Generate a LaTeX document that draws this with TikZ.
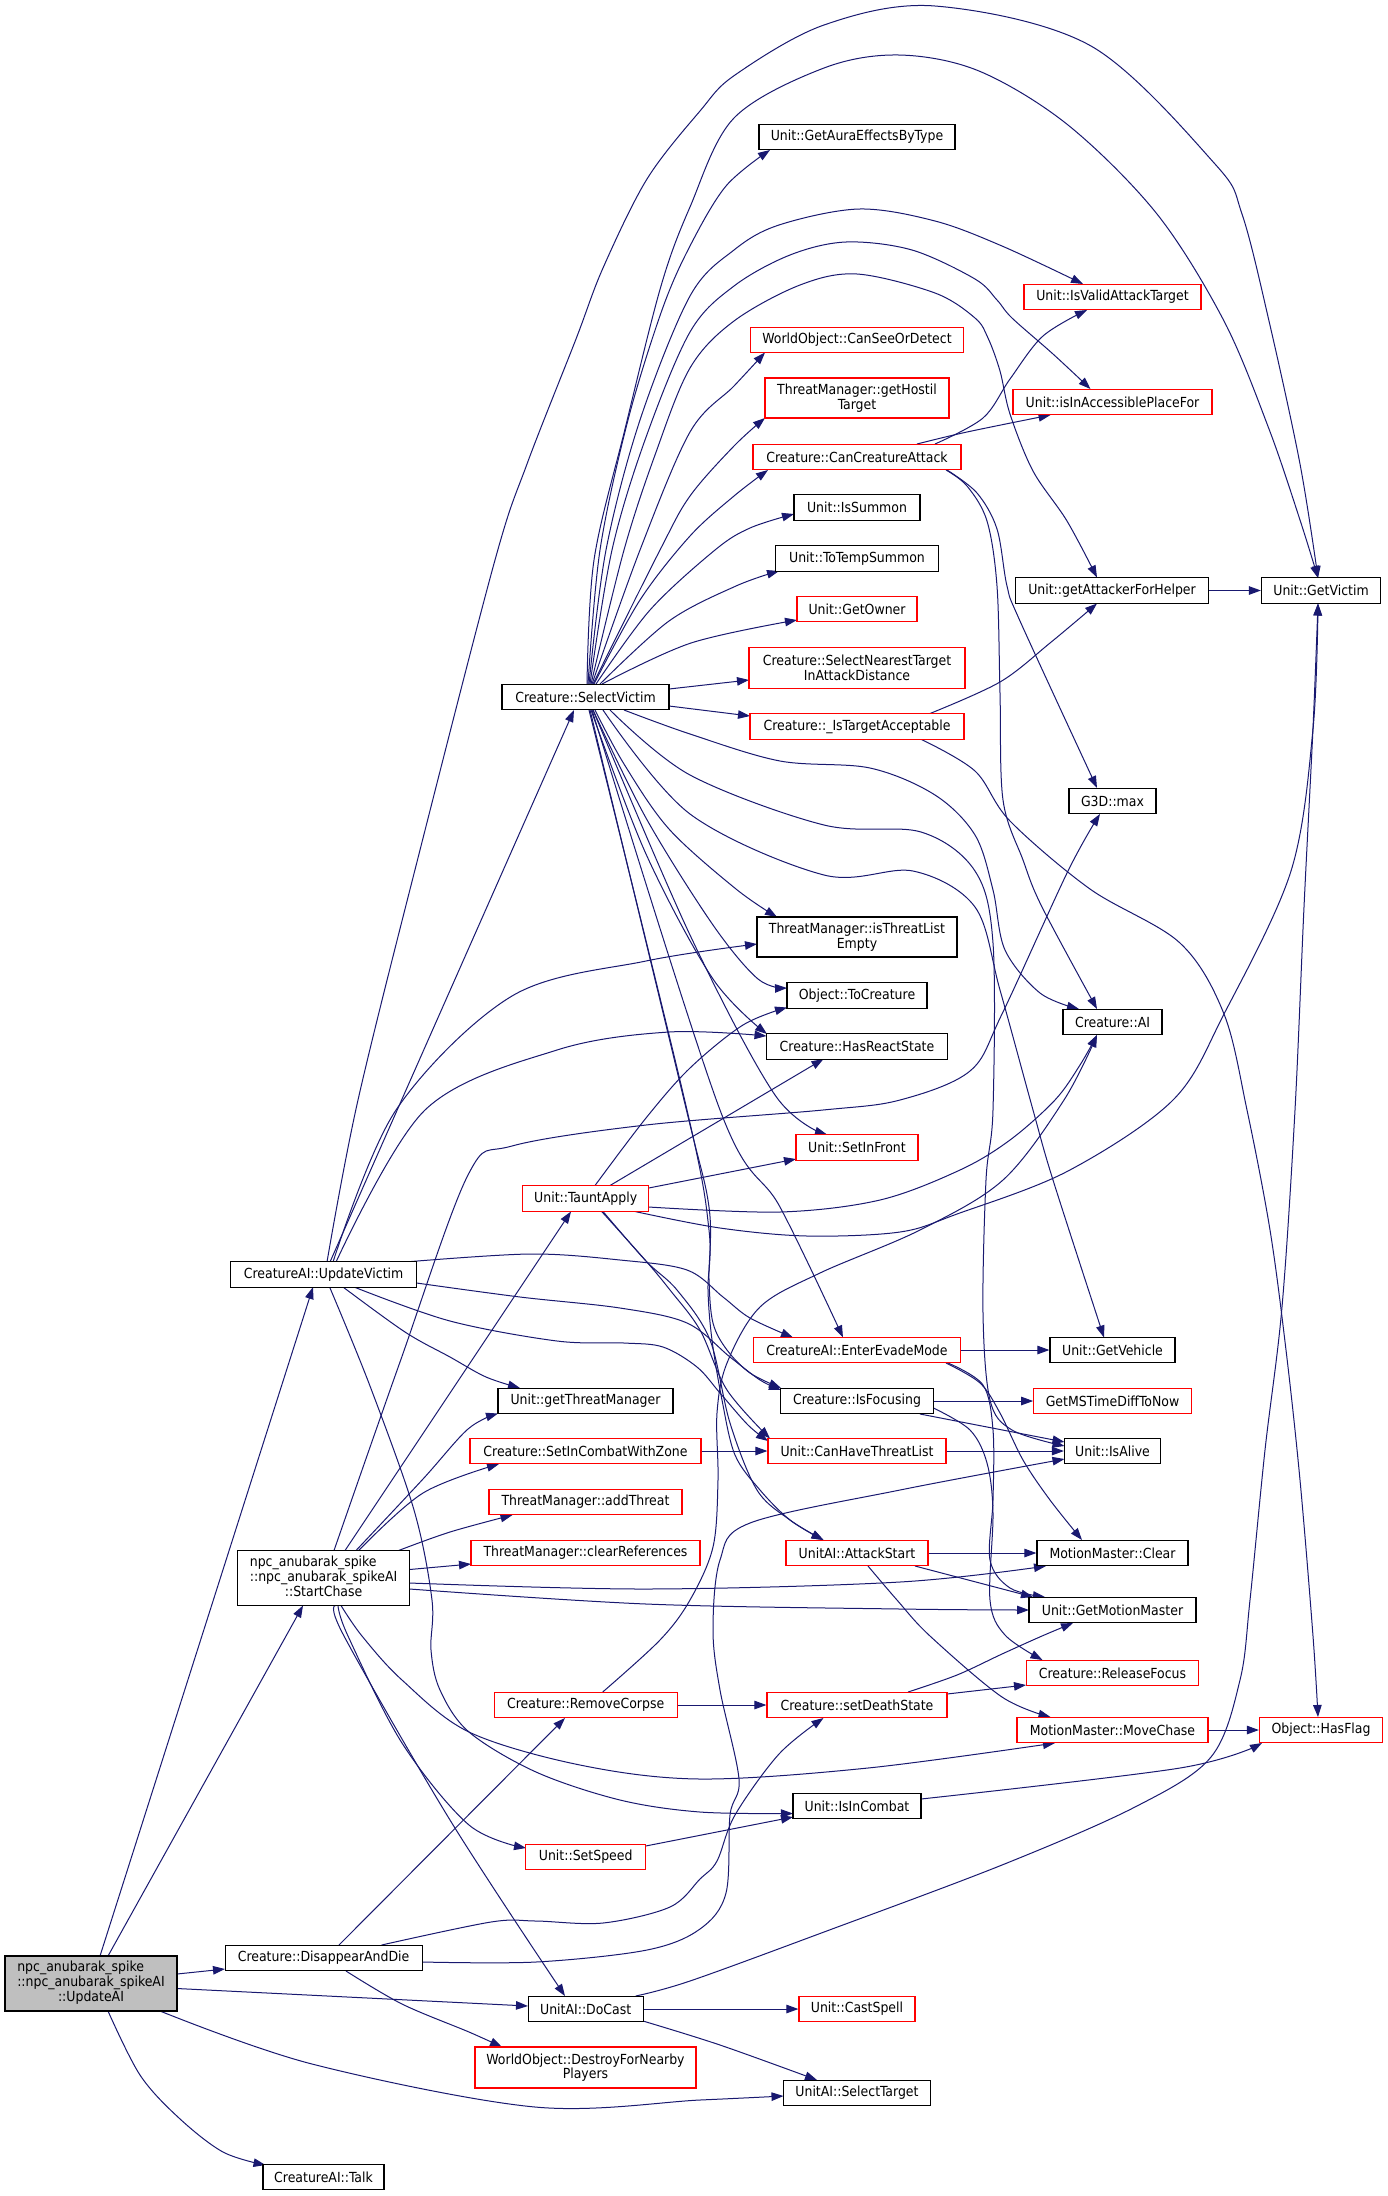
\documentclass[tikz,border=0pt]{standalone}
\usepackage{fontspec}
\IfFontExistsTF{DejaVu Sans Condensed}{\setmainfont{DejaVu Sans Condensed}}{\setmainfont{DejaVu Sans}[FakeStretch=0.9]}
\usetikzlibrary{arrows.meta,calc}
\definecolor{edgec}{RGB}{25,25,112}
\definecolor{nodered}{RGB}{255,0,0}
\definecolor{mygray}{RGB}{191,191,191}
\pgfdeclarelayer{bg}
\pgfsetlayers{bg,main}
\tikzset{
  base/.style={rectangle, fill=white, line width=1.2pt, inner xsep=0pt, inner ysep=0pt,
    minimum height=25.5pt, font=\fontsize{13.9}{14.5}\selectfont, align=center},
  nb/.style={base, draw=black},
  nr/.style={base, draw=nodered},
  e/.style={draw=edgec, line width=1pt, -{Triangle[length=12pt,width=8.5pt]}},
}
\newcommand\edg[1]{\draw[e] plot[smooth,tension=0.55] coordinates {#1};}
\newcommand\threel[3]{\begin{tabular}{@{}l@{}}#1\\#2\\\multicolumn{1}{@{}c@{}}{#3}\end{tabular}}
\begin{document}
\begin{tikzpicture}[x=1pt,y=-1pt]
\useasboundingbox (0,0) rectangle (1388,2196);
% nodes
\node[nb, minimum width=196pt] (gaebt) at (857,137) {Unit::GetAuraEffectsByType};
\node[nr, minimum width=177pt] (ivat) at (1112.5,297) {Unit::IsValidAttackTarget};
\node[nr, minimum width=213pt] (csod) at (857,340) {WorldObject::CanSeeOrDetect};
\node[nr, minimum width=184pt, minimum height=40pt] (ght) at (857,398) {ThreatManager::getHostil\\Target};
\node[nr, minimum width=199pt] (iapf) at (1112.5,402) {Unit::isInAccessiblePlaceFor};
\node[nr, minimum width=208pt] (cca) at (857,457) {Creature::CanCreatureAttack};
\node[nb, minimum width=126pt] (iss) at (857,507.5) {Unit::IsSummon};
\node[nb, minimum width=163pt] (tts) at (857,558.5) {Unit::ToTempSummon};
\node[nb, minimum width=193.5pt] (gafh) at (1112,590.5) {Unit::getAttackerForHelper};
\node[nb, minimum width=119pt] (gv) at (1321,590.5) {Unit::GetVictim};
\node[nr, minimum width=120pt] (go) at (857,609) {Unit::GetOwner};
\node[nr, minimum width=216pt, minimum height=40.5pt] (snt) at (857,668) {Creature::SelectNearestTarget\\InAttackDistance};
\node[nb, minimum width=167pt] (sv) at (585.5,697) {Creature::SelectVictim};
\node[nr, minimum width=214pt] (ita) at (857,726.5) {Creature::\_IsTargetAcceptable};
\node[nb, minimum width=87pt] (max) at (1112.5,801) {G3D::max};
\node[nb, minimum width=200pt, minimum height=40pt] (itle) at (857,937) {ThreatManager::isThreatList\\Empty};
\node[nb, minimum width=140pt] (tc) at (857,995.5) {Object::ToCreature};
\node[nb, minimum width=99pt] (ai) at (1112.5,1022) {Creature::AI};
\node[nb, minimum width=181pt] (hrs) at (857,1046.5) {Creature::HasReactState};
\node[nr, minimum width=122pt] (sif) at (857,1147.5) {Unit::SetInFront};
\node[nr, minimum width=126pt] (ta) at (585.7,1198.5) {Unit::TauntApply};
\node[nb, minimum width=186pt] (uv) at (323.6,1274.5) {CreatureAI::UpdateVictim};
\node[nr, minimum width=207pt] (eem) at (857,1350) {CreatureAI::EnterEvadeMode};
\node[nb, minimum width=125pt] (gveh) at (1112.5,1350) {Unit::GetVehicle};
\node[nb, minimum width=175pt] (gtm) at (585.5,1401) {Unit::getThreatManager};
\node[nb, minimum width=152.5pt] (foc) at (857,1401) {Creature::IsFocusing};
\node[nr, minimum width=157.5pt] (gms) at (1112.5,1401) {GetMSTimeDiffToNow};
\node[nr, minimum width=231pt] (sicwz) at (585.5,1451) {Creature::SetInCombatWithZone};
\node[nr, minimum width=178pt] (chtl) at (857,1451) {Unit::CanHaveThreatList};
\node[nb, minimum width=96pt] (ia) at (1112.5,1451) {Unit::IsAlive};
\node[nr, minimum width=193pt] (at) at (585.5,1502) {ThreatManager::addThreat};
\node[nb, minimum width=172pt, minimum height=55pt] (sc) at (323.6,1578) {\threel{npc\_anubarak\_spike}{::npc\_anubarak\_spikeAI}{::StartChase}};
\node[nr, minimum width=229pt] (cr) at (585.5,1553) {ThreatManager::clearReferences};
\node[nr, minimum width=142pt] (as) at (857,1553) {UnitAI::AttackStart};
\node[nb, minimum width=151pt] (mmc) at (1112.5,1553) {MotionMaster::Clear};
\node[nb, minimum width=167pt] (gmm) at (1112.5,1610) {Unit::GetMotionMaster};
\node[nr, minimum width=172.5pt] (rf) at (1112.5,1673) {Creature::ReleaseFocus};
\node[nr, minimum width=183pt] (rc) at (585.7,1705) {Creature::RemoveCorpse};
\node[nr, minimum width=180pt] (sds) at (857,1705) {Creature::setDeathState};
\node[nr, minimum width=191pt] (mc) at (1112.5,1730) {MotionMaster::MoveChase};
\node[nr, minimum width=123pt] (hf) at (1321,1730) {Object::HasFlag};
\node[nb, minimum width=128pt] (iic) at (857,1806) {Unit::IsInCombat};
\node[nr, minimum width=120pt] (ss) at (585.7,1857) {Unit::SetSpeed};
\node[nb, fill=mygray, minimum width=172pt, minimum height=55pt] (ua) at (91,1983.5) {\threel{npc\_anubarak\_spike}{::npc\_anubarak\_spikeAI}{::UpdateAI}};
\node[nb, minimum width=197pt] (dad) at (323.6,1958) {Creature::DisappearAndDie};
\node[nb, minimum width=115pt] (dc) at (585.7,2009) {UnitAI::DoCast};
\node[nr, minimum width=116pt] (cs) at (857,2009) {Unit::CastSpell};
\node[nr, minimum width=221pt, minimum height=41pt] (dfnp) at (585.5,2067.5) {WorldObject::DestroyForNearby\\Players};
\node[nb, minimum width=147pt] (st) at (857,2093) {UnitAI::SelectTarget};
\node[nb, minimum width=121pt] (talk) at (323.5,2177) {CreatureAI::Talk};

\begin{pgfonlayer}{bg}
\fill[white] (0,0) rectangle (1388,2196);
% UpdateAI
\draw[e] ($(ua)+(9,-27.5)$) -- ($(uv)+(-10.6,12.5)$);
\draw[e] ($(ua)+(17,-27.5)$) -- ($(sc)+(-20.6,27.5)$);
\draw[e] ($(ua)+(86,-9.5)$) -- ($(dad)+(-98.6,11)$);
\draw[e] ($(ua)+(86,5)$) -- ($(dc)+(-57.7,-3)$);
\edg{($(ua)+(69,27.5)$) (312,2064) (535,2107) (700,2100) ($(st)+(-73.5,3)$)}
\edg{($(ua)+(17,27.5)$) (140,2075) (179,2118) (223,2152) ($(talk)+(-58,-12)$)}
% UpdateVictim
\draw[e] ($(uv)+(6.4,-12.5)$) -- ($(sv)+(-11.5,13)$);
\edg{($(uv)+(3.4,-12.5)$) (358,1100) (420,850) (495,560) (527,464) (576,339) (603,268) (647,179) (700,111) (735,75) (824,25) (935,6) (1091,46) (1215,164) (1242,214) (1269,321) (1300,464) ($(gv)+(-3,-12.5)$)}
\edg{($(uv)+(9.4,-12.5)$) (396,1110) (512,996) (646,961) ($(itle)+(-100,7)$)}
\edg{($(uv)+(12.4,-12.5)$) (425,1110) (557,1050) (669,1032) ($(hrs)+(-90.5,-10.5)$)}
\edg{($(uv)+(81.4,-12.5)$) (530,1254) (620,1260) (687,1270) (723,1297) (750,1318) ($(eem)+(-64,-12.5)$)}
\edg{($(uv)+(93,8.5)$) (520,1297) (620,1308) (687,1323) (730,1357) (760,1380) ($(foc)+(-76,-11)$)}
\edg{($(uv)+(30.4,12.5)$) (450,1321) (557,1341) (624,1343) (663,1347) (697,1367) (720,1393) (748,1425) ($(chtl)+(-89,-10)$)}
\edg{($(uv)+(19.4,12.5)$) (405,1332) (450,1357) (486,1377) ($(gtm)+(-65.5,-13)$)}
\edg{($(uv)+(6,12.5)$) (370,1386) (414,1510) (432,1600) (431,1650) (440,1690) (469,1732) (536,1772) (620,1800) (700,1812) ($(iic)+(-64,7.5)$)}
% SelectVictim upper fan
\edg{($(sv)+(1.5,-13)$) (594,560) (625,429) (661,286) (690,207) (734,118) (824,68) (899,55) (979,71) (1068,125) (1157,214) (1224,321) (1269,429) (1300,520) ($(gv)+(-3,-12.5)$)}
\edg{($(sv)+(2.5,-13)$) (600,550) (628,420) (662,310) (690,246) (726,186) ($(gaebt)+(-87,13)$)}
\edg{($(sv)+(3.5,-13)$) (606,550) (640,420) (690,296) (734,250) (779,225) (859,209) (935,221) (1002,246) ($(ivat)+(-29.5,-13)$)}
\edg{($(sv)+(4.5,-13)$) (612,550) (645,440) (690,332) (734,286) (790,255) (846,242) (912,250) (975,279) (997,300) (1012,318) (1053,354) ($(iapf)+(-22,-13)$)}
\edg{($(sv)+(5.5,-13)$) (624,550) (655,455) (690,368) (734,321) (800,285) (857,274) (935,293) (975,318) (988,338) (1000,371) (1010,414) (1033,471) (1067,521) ($(gafh)+(-15,-13)$)}
\edg{($(sv)+(6.5,-13)$) (640,550) (690,432) (734,386) ($(csod)+(-92,12.5)$)}
\edg{($(sv)+(7.5,-13)$) (660,550) (690,496) (734,446) ($(ght)+(-92,20)$)}
\edg{($(sv)+(8.5,-13)$) (640,600) (690,536) (734,496) ($(cca)+(-89,13)$)}
\edg{($(sv)+(10.5,-13)$) (650,610) (715,550) (750,528) ($(iss)+(-63,6.5)$)}
\edg{($(sv)+(14.5,-13)$) (669,621) (736,586) ($(tts)+(-78,12.5)$)}
\edg{($(sv)+(16.5,-13)$) (691,643) ($(go)+(-60,11)$)}
\draw[e] ($(sv)+(83.5,-8)$) -- ($(snt)+(-108,12)$);
\draw[e] ($(sv)+(83.5,9)$) -- ($(ita)+(-107,-10.5)$);
% SelectVictim lower fan
\edg{($(sv)+(9.5,13)$) (624,764) (669,829) (736,889) ($(itle)+(-80,-20)$)}
\edg{($(sv)+(7.5,13)$) (646,818) (713,925) (758,979) ($(tc)+(-70,-7.5)$)}
\edg{($(sv)+(5.5,13)$) (646,854) (713,979) ($(hrs)+(-90,-12.5)$)}
\edg{($(sv)+(7.5,13)$) (690,935) (775,1095) ($(sif)+(-30,-13)$)}
\edg{($(sv)+(6.5,13)$) (720,1110) (780,1207) ($(eem)+(-14,-12.5)$)}
\edg{($(sv)+(4.5,13)$) (684,1100) (709,1207) (709,1279) (713,1323) (727,1350) (750,1373) ($(foc)+(-76,-13)$)}
\edg{($(sv)+(3.5,13)$) (687,1110) (709,1230) (708,1290) (712,1340) (722,1400) (735,1455) (760,1490) (790,1520) ($(as)+(-33.5,-13)$)}
\edg{($(sv)+(38.5,13)$) (690,734) (780,761) (870,768) (935,795) (975,835) (993,890) (1005,950) (1040,993) ($(ai)+(-33.5,-13)$)}
\edg{($(sv)+(24.5,13)$) (690,775) (824,825) (921,832) (975,871) (993,943) (993,1110) (986,1180) (983,1313) (990,1400) (1012,1430) ($(ia)+(-48,-5)$)}
\edg{($(sv)+(17.5,13)$) (690,814) (824,875) (913,871) (975,907) (1000,990) (1033,1110) (1053,1180) ($(gveh)+(-8.5,-12.5)$)}
% CanCreatureAttack
\edg{($(cca)+(78,-13)$) (983,418) (1010,379) (1043,336) ($(ivat)+(-25.5,13)$)}
\edg{($(cca)+(60,-13)$) (967,432) ($(iapf)+(-62,13)$)}
\edg{($(cca)+(90,13)$) (977,493) (997,529) (1007,586) (1020,621) ($(max)+(-15.5,-13)$)}
\edg{($(cca)+(89,13)$) (967,486) (987,521) (997,586) (1000,693) (1003,800) (1023,860) (1042,907) ($(ai)+(-15.5,-13)$)}
% IsTargetAcceptable
\edg{($(ita)+(73,-13)$) (1000,682) (1050,643) ($(gafh)+(-15,13)$)}
\edg{($(ita)+(64.5,13)$) (975,771) (1010,821) (1090,889) (1180,943) (1224,1014) (1247,1110) (1270,1230) (1286,1350) (1300,1480) (1313,1636) ($(hf)+(-3,-13)$)}
\draw[e] (gafh.east) -- (gv.west);
% TauntApply
\edg{($(ta)+(9.3,-13)$) (646,1118) (690,1068) (743,1025) ($(tc)+(-70,12)$)}
\draw[e] ($(ta)+(24.3,-13)$) -- ($(hrs)+(-33.5,12.5)$);
\draw[e] ($(ta)+(63,-10.5)$) -- ($(sif)+(-61,11.5)$);
\edg{($(ta)+(16,13)$) (646,1261) (670,1290) (700,1330) (727,1390) ($(chtl)+(-87,-12.5)$)}
\edg{($(ta)+(17.3,13)$) (646,1261) (677,1290) (710,1340) (730,1423) (757,1490) (790,1520) ($(as)+(-33.5,-13)$)}
\edg{($(ta)+(63,8.5)$) (780,1212) (880,1200) (960,1170) (1010,1140) (1055,1100) (1080,1065) ($(ai)+(-15.5,13)$)}
\edg{($(ta)+(49.3,13)$) (720,1228) (807,1236) (900,1232) (957,1214) (1068,1171) (1173,1100) (1224,1014) (1291,871) (1313,729) ($(gv)+(-3,13)$)}
% StartChase
\draw[e] ($(sc)+(21.4,-27.5)$) -- ($(ta)+(-14.7,13)$);
\edg{($(sc)+(10.4,-27.5)$) (400,1362) (468,1175) (512,1146) (646,1125) (823,1110) (900,1100) (970,1071) (1002,1014) (1068,871) ($(max)+(-12.5,13)$)}
\edg{($(sc)+(32.4,-27.5)$) (423,1479) (468,1429) ($(gtm)+(-87.5,12.5)$)}
\edg{($(sc)+(35,-27.5)$) (423,1493) ($(sicwz)+(-86.5,13)$)}
\edg{($(sc)+(75,-27.5)$) (450,1532) ($(at)+(-73,13)$)}
\draw[e] ($(sc)+(86,-8.5)$) -- ($(cr)+(-114.5,11)$);
\edg{($(sc)+(86,5)$) (646,1589) (900,1582) ($(mmc)+(-66.5,13)$)}
\edg{($(sc)+(86,11)$) (646,1604) (900,1609) ($(gmm)+(-83.5,0)$)}
\edg{($(sc)+(17.4,27.5)$) (362,1636) (402,1680) (469,1732) (580,1765) (700,1779) (868,1768) ($(mc)+(-57.5,13)$)}
\edg{($(sc)+(14.4,27.5)$) (348,1636) (402,1743) (469,1825) ($(ss)+(-59.7,-9)$)}
\edg{($(sc)+(12.4,27.5)$) (344,1636) (450,1820) ($(dc)+(-20.7,-13)$)}
% DisappearAndDie
\draw[e] ($(dad)+(15.4,-13)$) -- ($(rc)+(-20.7,13)$);
\edg{($(dad)+(58,-13)$) (491,1922) (536,1921) (603,1923) (670,1907) (700,1879) (717,1861) (735,1815) (779,1754) ($(sds)+(-33.5,13)$)}
\edg{($(dad)+(98.5,4)$) (536,1962) (647,1950) (700,1929) (726,1893) (730,1815) (739,1779) (720,1690) (713,1630) (720,1560) (750,1523) (900,1490) ($(ia)+(-48,8)$)}
\edg{($(dad)+(22.4,13)$) (402,2004) (469,2032) ($(dfnp)+(-83.5,-20.5)$)}
% RemoveCorpse
\draw[e] (rc.east) -- (sds.west);
\edg{($(rc)+(17,-13)$) (660,1640) (690,1600) (713,1547) (718,1480) (717,1413) (727,1363) (760,1307) (820,1273) (920,1230) (1003,1180) (1064,1100) ($(ai)+(-15.5,13)$)}
% setDeathState
\draw[e] ($(sds)+(90,-11)$) -- ($(rf)+(-86.5,12)$);
\edg{($(sds)+(51,-13)$) (957,1675) (1002,1654) (1042,1636) ($(gmm)+(-39.5,13)$)}
% IsFocusing
\draw[e] (foc.east) -- (gms.west);
\draw[e] ($(foc)+(63,13)$) -- ($(ia)+(-48,-9)$);
\edg{($(foc)+(76.5,7)$) (970,1430) (987,1463) (993,1513) (990,1600) (1005,1635) ($(rf)+(-70,-13)$)}
% EnterEvadeMode
\draw[e] (eem.east) -- (gveh.west);
\edg{($(eem)+(89,13)$) (980,1383) (1000,1413) (1023,1460) (1050,1500) ($(mmc)+(-30.5,-13)$)}
\edg{($(eem)+(91,13)$) (983,1385) (993,1430) (993,1500) (990,1560) (1010,1588) ($(gmm)+(-67.5,-13)$)}
% misc
\draw[e] (chtl.east) -- (ia.west);
\draw[e] (sicwz.east) -- (chtl.west);
\draw[e] (as.east) -- (mmc.west);
\draw[e] ($(as)+(58,13)$) -- ($(gmm)+(-79.5,-13)$);
\edg{($(as)+(11,13)$) (897,1600) (930,1636) (1002,1697) ($(mc)+(-62,-13)$)}
\draw[e] (mc.east) -- (hf.west);
\edg{($(iic)+(64,-7)$) (1180,1768) ($(hf)+(-59,13)$)}
\draw[e] ($(ss)+(60,-11)$) -- ($(iic)+(-64,11)$);
\draw[e] (dc.east) -- (cs.west);
\edg{($(dc)+(57.3,12)$) (720,2045) ($(st)+(-40,-13)$)}
\edg{($(dc)+(50,-13)$) (690,1981) (824,1932) (1002,1865) (1135,1807) (1211,1757) (1240,1680) (1250,1600) (1265,1450) (1282,1307) (1295,1110) (1304,907) (1313,728) ($(gv)+(-3,13)$)}
\end{pgfonlayer}
\end{tikzpicture}
\end{document}
